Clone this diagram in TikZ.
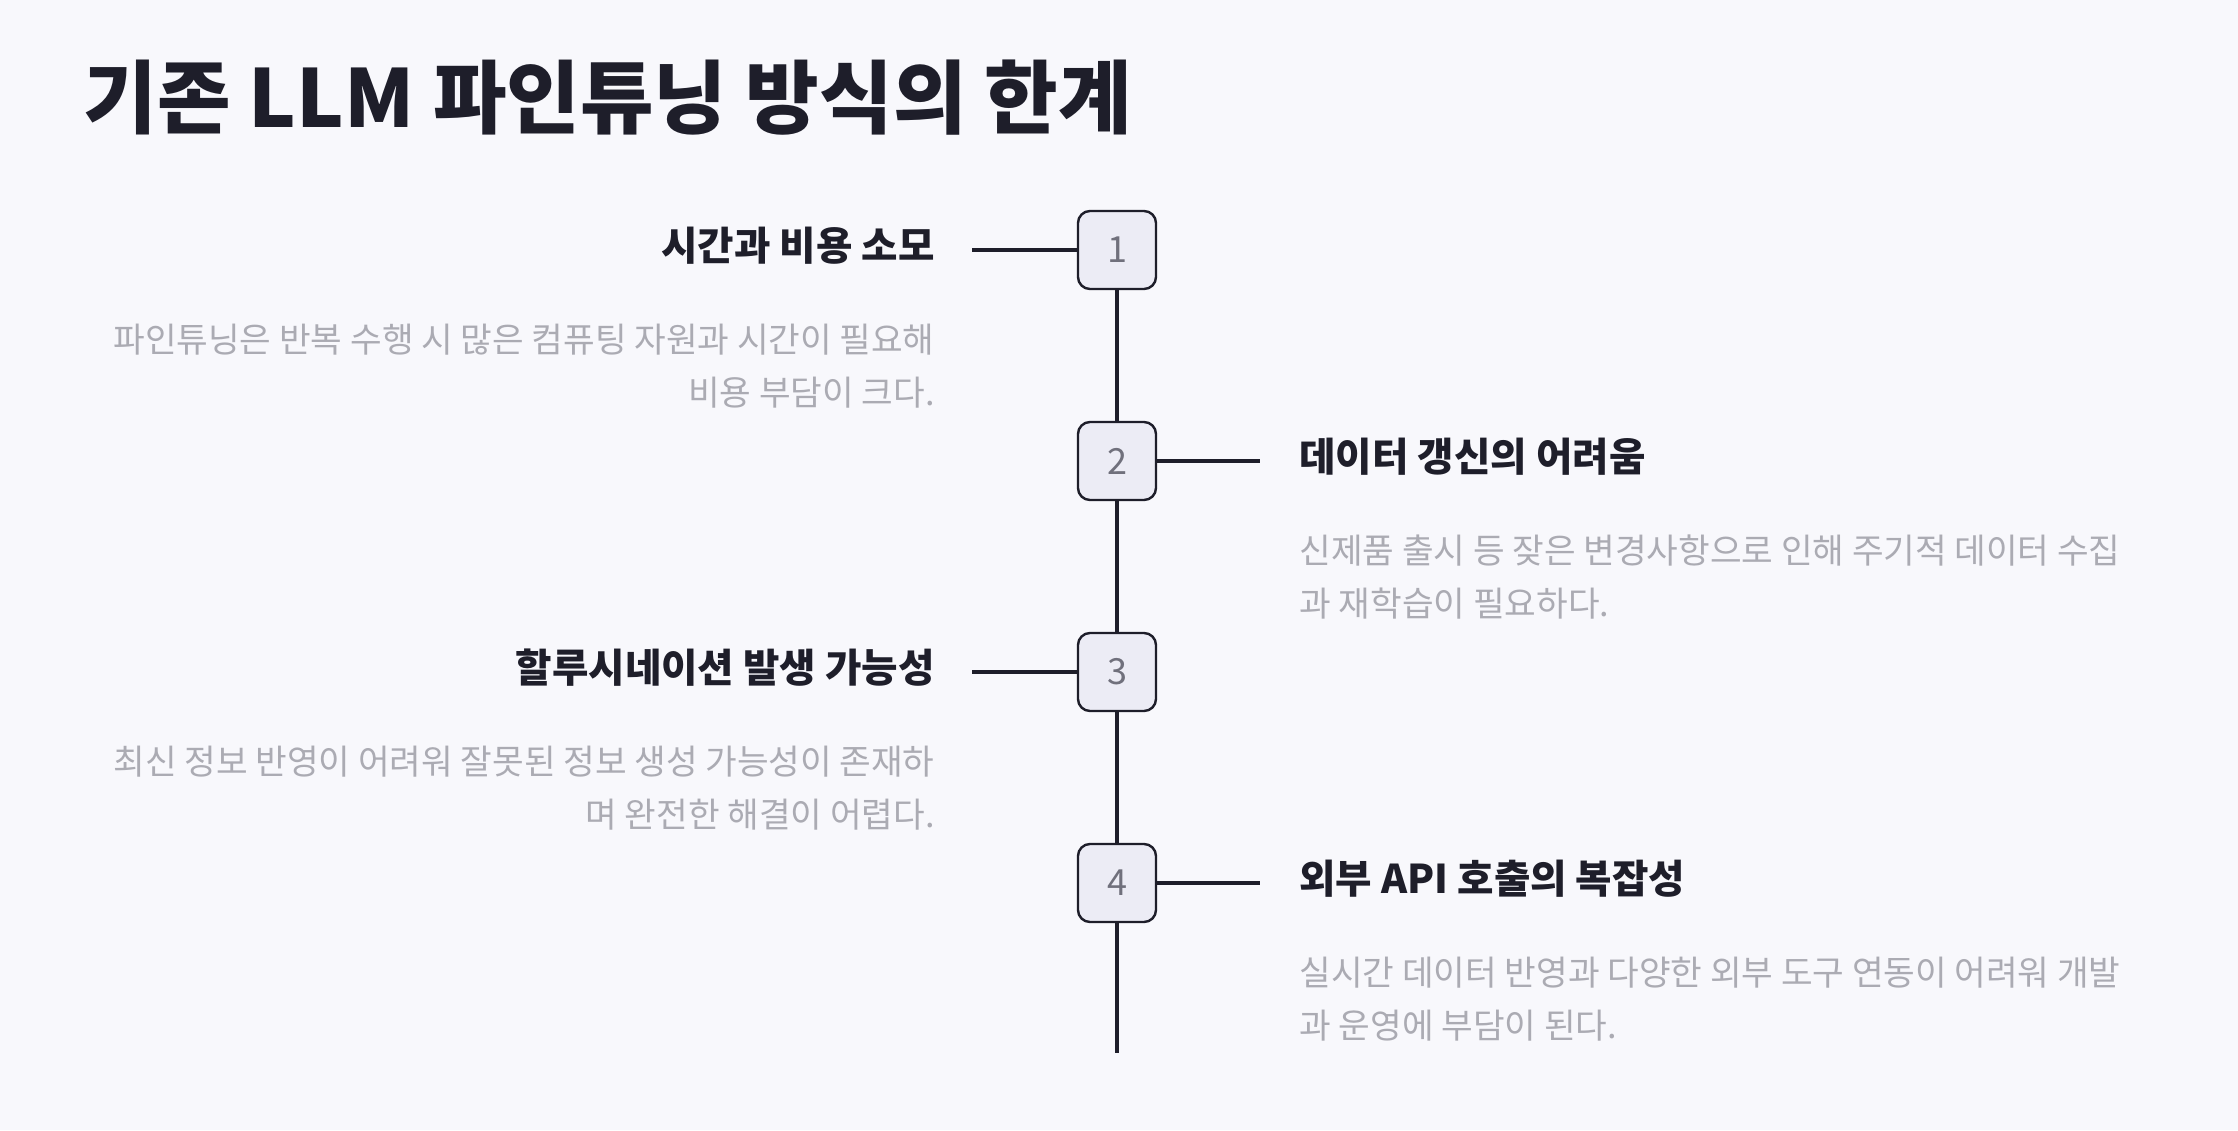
\documentclass[tikz,border=0pt]{standalone}
\usepackage{fontspec}
\setmainfont{Noto Sans CJK KR}
\usetikzlibrary{positioning}
\definecolor{bgcol}{HTML}{F8F8FC}
\definecolor{inkcol}{HTML}{1E1E2A}
\definecolor{boxcol}{HTML}{ECECF5}
\definecolor{numcol}{HTML}{70707C}
\definecolor{desccol}{HTML}{ABABB3}
\tikzset{stepnum/.style={draw=inkcol,line width=1.2pt,fill=boxcol,rounded corners=6pt,minimum size=39pt,inner sep=0pt,text=numcol,font=\fontsize{18}{18}\selectfont},
         head/.style={inner sep=0pt,text=inkcol,font=\fontsize{19.8}{19.8}\selectfont\bfseries},
         desc/.style={inner sep=0pt,text=desccol,font=\fontsize{17.2}{26.5}\selectfont},
         link/.style={draw=inkcol,line width=1.75pt},
        }

\begin{document}
\begin{tikzpicture}[x=0.5pt,y=-0.5pt]
        \fill[bgcol](0,0)rectangle(2238,1130);
        \node[anchor=west,inner sep=0pt,text=inkcol,font=\fontsize{40}{40}\selectfont\bfseries](title)at(83,98){기존 LLM 파인튜닝 방식의 한계};

        \coordinate(c1)at(972,250);
        \coordinate(c2)at(1260,461);
        \coordinate(c3)at(972,672);
        \coordinate(c4)at(1260,883);
        \coordinate(tail)at(1117,1053);

        \node[stepnum](b1)at(1117,250){1};
        \node[stepnum](b2)at(1117,461){2};
        \node[stepnum](b3)at(1117,672){3};
        \node[stepnum](b4)at(1117,883){4};

        \draw[link](b1.south)--(b2.north);
        \draw[link](b2.south)--(b3.north);
        \draw[link](b3.south)--(b4.north);
        \draw[link](b4.south)--(tail);
        \draw[link](c1)--(b1.west);
        \draw[link](b2.east)--(c2);
        \draw[link](c3)--(b3.west);
        \draw[link](b4.east)--(c4);

        \node[head,anchor=east](h1)at(935,246){시간과 비용 소모};
        \node[desc,anchor=east,align=right](d1)at(935,366){파인튜닝은 반복 수행 시 많은 컴퓨팅 자원과 시간이 필요해\\비용 부담이 크다.};
        \node[head,anchor=west](h2)at(1299,457){데이터 갱신의 어려움};
        \node[desc,anchor=west,align=left](d2)at(1299,577){신제품 출시 등 잦은 변경사항으로 인해 주기적 데이터 수집\\과 재학습이 필요하다.};
        \node[head,anchor=east](h3)at(935,668){할루시네이션 발생 가능성};
        \node[desc,anchor=east,align=right](d3)at(935,788){최신 정보 반영이 어려워 잘못된 정보 생성 가능성이 존재하\\며 완전한 해결이 어렵다.};
        \node[head,anchor=west](h4)at(1299,879){외부 API 호출의 복잡성};
        \node[desc,anchor=west,align=left](d4)at(1299,999){실시간 데이터 반영과 다양한 외부 도구 연동이 어려워 개발\\과 운영에 부담이 된다.};
    \end{tikzpicture}
\end{document}
